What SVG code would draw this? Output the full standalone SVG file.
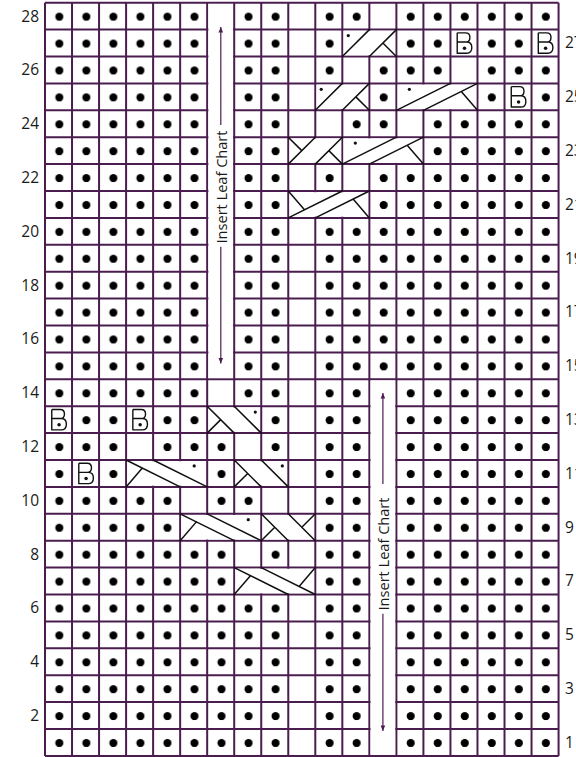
<svg xmlns="http://www.w3.org/2000/svg" xmlns:xlink="http://www.w3.org/1999/xlink" width="576" height="757" viewBox="0 0 576 757">
<style>
.grid{fill:none;stroke:#4b1d4f;stroke-width:2;vector-effect:non-scaling-stroke}
.cb{fill:none;stroke:#111;stroke-width:1.5;vector-effect:non-scaling-stroke;stroke-linecap:round}
.bs{fill:none;stroke:#111;stroke-width:1.4;vector-effect:non-scaling-stroke;stroke-linejoin:round}
.cv{fill:#fff}
.dk{fill:#111}
.dt{fill:url(#dots)}
.num{font-family:"Open Sans","Liberation Sans",sans-serif;font-size:15.5px;fill:#1a1a1a}
.lbl{font-family:"Open Sans","Liberation Sans",sans-serif;font-size:14.5px;fill:#1a1a1a}
.arr{stroke:#4b1d4f;stroke-width:1.2;fill:none;marker-end:url(#ah)}
</style>
<defs>
<marker id="ah" markerUnits="userSpaceOnUse" markerWidth="8" markerHeight="8" viewBox="-6 -4 8 8" refX="0" refY="0" orient="auto">
<path d="M0 0L-5.5 -2.3L-5.5 2.3Z" fill="#4b1d4f"/>
</marker>
<pattern id="dots" patternUnits="userSpaceOnUse" width="1" height="1">
<circle cx="0.53" cy="0.52" r="0.15" fill="#000"/>
</pattern>
<g id="rpc2"><rect class="cv" x="0.045" y="0.045" width="1.91" height="0.91"/><path class="cb" d="M0 1L1 0M1 1L2 0M1.5 0.5L2 1"/><circle class="dk" cx="0.22" cy="0.22" r="0.06"/></g>
<g id="rpc3"><rect class="cv" x="0.045" y="0.045" width="2.91" height="0.91"/><path class="cb" d="M0 1L2 0M1 1L3 0M2.4 0.3L3 1"/><circle class="dk" cx="0.48" cy="0.22" r="0.06"/></g>
<g id="rc2"><rect class="cv" x="0.045" y="0.045" width="1.91" height="0.91"/><path class="cb" d="M0 1L1 0M1 1L2 0M0 0L0.5 0.5M1.5 0.5L2 1"/></g>
<g id="rc3"><rect class="cv" x="0.045" y="0.045" width="2.91" height="0.91"/><path class="cb" d="M0 1L2 0M1 1L3 0M0 0L0.6 0.7M2.4 0.3L3 1"/></g>
<g id="lpc2"><rect class="cv" x="0.045" y="0.045" width="1.91" height="0.91"/><path class="cb" d="M0 0L1 1M1 0L2 1M0 1L0.5 0.5"/><circle class="dk" cx="1.78" cy="0.22" r="0.06"/></g>
<g id="lpc3"><rect class="cv" x="0.045" y="0.045" width="2.91" height="0.91"/><path class="cb" d="M0 0L2 1M1 0L3 1M0 1L0.6 0.3"/><circle class="dk" cx="2.52" cy="0.22" r="0.06"/></g>
<g id="lc2"><rect class="cv" x="0.045" y="0.045" width="1.91" height="0.91"/><path class="cb" d="M0 0L1 1M1 0L2 1M0 1L0.5 0.5M1.5 0.5L2 0"/></g>
<g id="lc3"><rect class="cv" x="0.045" y="0.045" width="2.91" height="0.91"/><path class="cb" d="M0 0L2 1M1 0L3 1M0 1L0.6 0.3M2.4 0.7L3 0"/></g>
<g id="bob"><path class="bs" d="M0.25 0.12V0.88H0.6Q0.79 0.88 0.79 0.67Q0.79 0.46 0.6 0.46H0.25M0.25 0.12H0.56Q0.72 0.12 0.72 0.29Q0.72 0.46 0.56 0.46"/><circle class="dk" cx="0.52" cy="0.69" r="0.065"/></g>
</defs>

<g id="chart" transform="translate(45 2.7) scale(27.03 26.9)">
<g id="gridlines">
<path class="grid" d="M0 0H19M0 1H19M0 2H19M0 3H19M0 4H19M0 5H19M0 6H19M0 7H19M0 8H19M0 9H19M0 10H19M0 11H19M0 12H19M0 13H19M0 14H19M0 15H19M0 16H19M0 17H19M0 18H19M0 19H19M0 20H19M0 21H19M0 22H19M0 23H19M0 24H19M0 25H19M0 26H19M0 27H19M0 28H19M0 0V28M1 0V28M2 0V28M3 0V28M4 0V28M5 0V28M6 0V28M7 0V28M8 0V28M9 0V28M10 0V28M11 0V28M12 0V28M13 0V28M14 0V28M15 0V28M16 0V28M17 0V28M18 0V28M19 0V28"/>
<rect class="cv" x="6.045" y="0.045" width="0.91" height="13.91"/>
<rect class="cv" x="12.045" y="14.045" width="0.91" height="13.91"/>
</g>
<g id="purl-dots">
<rect class="dt" x="0" y="0" width="6" height="15"/>
<rect class="dt" x="7" y="0" width="2" height="15"/>
<rect class="dt" x="10" y="0" width="2" height="1"/>
<rect class="dt" x="13" y="0" width="6" height="1"/>
<rect class="dt" x="10" y="1" width="1" height="1"/>
<rect class="dt" x="13" y="1" width="2" height="1"/>
<rect class="dt" x="16" y="1" width="2" height="1"/>
<rect class="dt" x="10" y="2" width="1" height="1"/>
<rect class="dt" x="12" y="2" width="3" height="1"/>
<rect class="dt" x="16" y="2" width="3" height="1"/>
<rect class="dt" x="12" y="3" width="1" height="1"/>
<rect class="dt" x="16" y="3" width="1" height="1"/>
<rect class="dt" x="18" y="3" width="1" height="1"/>
<rect class="dt" x="11" y="4" width="2" height="1"/>
<rect class="dt" x="14" y="4" width="5" height="1"/>
<rect class="dt" x="14" y="5" width="5" height="1"/>
<rect class="dt" x="10" y="6" width="1" height="1"/>
<rect class="dt" x="12" y="6" width="7" height="1"/>
<rect class="dt" x="12" y="7" width="7" height="1"/>
<rect class="dt" x="10" y="8" width="9" height="6"/>
<rect class="dt" x="10" y="14" width="2" height="14"/>
<rect class="dt" x="13" y="14" width="6" height="14"/>
<rect class="dt" x="1" y="15" width="2" height="1"/>
<rect class="dt" x="4" y="15" width="2" height="1"/>
<rect class="dt" x="8" y="15" width="1" height="1"/>
<rect class="dt" x="0" y="16" width="3" height="1"/>
<rect class="dt" x="4" y="16" width="3" height="1"/>
<rect class="dt" x="8" y="16" width="1" height="1"/>
<rect class="dt" x="0" y="17" width="1" height="1"/>
<rect class="dt" x="2" y="17" width="1" height="1"/>
<rect class="dt" x="6" y="17" width="1" height="1"/>
<rect class="dt" x="0" y="18" width="5" height="1"/>
<rect class="dt" x="6" y="18" width="2" height="1"/>
<rect class="dt" x="0" y="19" width="5" height="1"/>
<rect class="dt" x="0" y="20" width="7" height="1"/>
<rect class="dt" x="8" y="20" width="1" height="1"/>
<rect class="dt" x="0" y="21" width="7" height="1"/>
<rect class="dt" x="0" y="22" width="9" height="6"/>
</g>
<g id="cables">
<use xlink:href="#rpc2" x="11" y="1"/>
<use xlink:href="#rpc2" x="10" y="3"/>
<use xlink:href="#rpc3" x="13" y="3"/>
<use xlink:href="#rc2" x="9" y="5"/>
<use xlink:href="#rpc3" x="11" y="5"/>
<use xlink:href="#rc3" x="9" y="7"/>
<use xlink:href="#lpc2" x="6" y="15"/>
<use xlink:href="#lpc3" x="3" y="17"/>
<use xlink:href="#lpc2" x="7" y="17"/>
<use xlink:href="#lpc3" x="5" y="19"/>
<use xlink:href="#lc2" x="8" y="19"/>
<use xlink:href="#lc3" x="7" y="21"/>
</g>
<g id="bobbles">
<use xlink:href="#bob" x="15" y="1"/>
<use xlink:href="#bob" x="18" y="1"/>
<use xlink:href="#bob" x="17" y="3"/>
<use xlink:href="#bob" x="0" y="15"/>
<use xlink:href="#bob" x="3" y="15"/>
<use xlink:href="#bob" x="1" y="17"/>
</g>
</g>

<g id="insert-upper">
<line class="arr" x1="220.8" y1="125" x2="220.8" y2="27"/>
<line class="arr" x1="220.8" y1="246.7" x2="220.8" y2="363.5"/>
<text class="lbl" transform="translate(226.5 243.5) rotate(-90)" textLength="113" lengthAdjust="spacingAndGlyphs">Insert Leaf Chart</text>
</g>
<g id="insert-lower">
<line class="arr" x1="382.9" y1="484" x2="382.9" y2="393"/>
<line class="arr" x1="382.9" y1="613.7" x2="382.9" y2="731"/>
<text class="lbl" transform="translate(388.5 610.5) rotate(-90)" textLength="113" lengthAdjust="spacingAndGlyphs">Insert Leaf Chart</text>
</g>

<g id="row-numbers">
<text class="num" x="39" y="21.5" text-anchor="end">28</text>
<text class="num" x="39" y="75.3" text-anchor="end">26</text>
<text class="num" x="39" y="129.1" text-anchor="end">24</text>
<text class="num" x="39" y="182.9" text-anchor="end">22</text>
<text class="num" x="39" y="236.7" text-anchor="end">20</text>
<text class="num" x="39" y="290.5" text-anchor="end">18</text>
<text class="num" x="39" y="344.3" text-anchor="end">16</text>
<text class="num" x="39" y="398.1" text-anchor="end">14</text>
<text class="num" x="39" y="451.9" text-anchor="end">12</text>
<text class="num" x="39" y="505.7" text-anchor="end">10</text>
<text class="num" x="39" y="559.5" text-anchor="end">8</text>
<text class="num" x="39" y="613.3" text-anchor="end">6</text>
<text class="num" x="39" y="667.1" text-anchor="end">4</text>
<text class="num" x="39" y="720.9" text-anchor="end">2</text>
<text class="num" x="565" y="48.4">27</text>
<text class="num" x="565" y="102.2">25</text>
<text class="num" x="565" y="156">23</text>
<text class="num" x="565" y="209.8">21</text>
<text class="num" x="565" y="263.6">19</text>
<text class="num" x="565" y="317.4">17</text>
<text class="num" x="565" y="371.2">15</text>
<text class="num" x="565" y="425">13</text>
<text class="num" x="565" y="478.8">11</text>
<text class="num" x="565" y="532.6">9</text>
<text class="num" x="565" y="586.4">7</text>
<text class="num" x="565" y="640.2">5</text>
<text class="num" x="565" y="694">3</text>
<text class="num" x="565" y="747.8">1</text>
</g>
</svg>
